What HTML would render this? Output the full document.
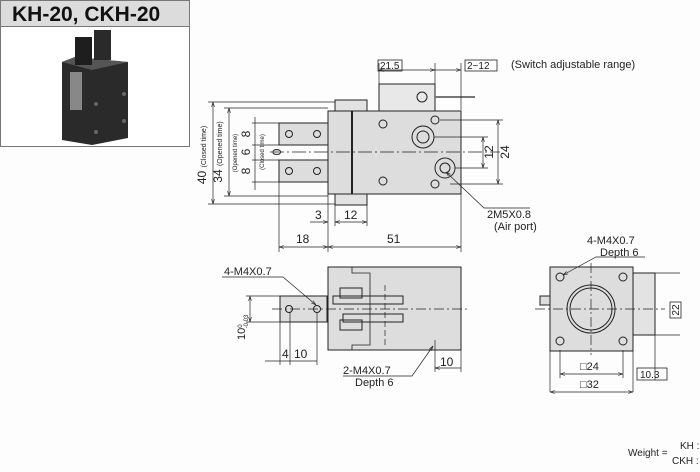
<!DOCTYPE html>
<html><head><meta charset="utf-8"><style>
html,body{margin:0;padding:0;background:#fff;}
svg{display:block;font-family:"Liberation Sans",sans-serif;}
</style></head><body>
<svg width="700" height="472" viewBox="0 0 700 472" xmlns="http://www.w3.org/2000/svg">
<defs>
<marker id="a" viewBox="0 0 10 10" refX="10" refY="5" markerWidth="7" markerHeight="7" orient="auto-start-reverse"><path d="M0,2 L10,5 L0,8" fill="none" stroke="#222" stroke-width="1.2"/></marker>
</defs>
<rect width="700" height="472" fill="#fdfdfd"/>
<rect x="0.5" y="0.5" width="189" height="146" fill="#fff" stroke="#777"/>
<rect x="0.5" y="0.5" width="189" height="26" fill="#dcdcdc" stroke="#777"/>
<text x="12" y="21" font-size="21" font-weight="bold" fill="#111">KH-20, CKH-20</text>
<polygon points="62,62 75,57 128,62 128,138 92,145 62,140" fill="#2a2a2a"/>
<polygon points="62,62 75,57 128,62 92,70" fill="#555"/>
<rect x="75" y="37" width="17" height="28" fill="#1e1e1e"/>
<rect x="94" y="30" width="17" height="30" fill="#2a2a2a"/>
<rect x="70" y="72" width="12" height="38" fill="#888"/>
<circle cx="96" cy="104" r="2" fill="#666"/><circle cx="96" cy="132" r="2" fill="#666"/>
<circle cx="124" cy="94" r="2" fill="#666"/><circle cx="124" cy="121" r="2" fill="#666"/>
<g stroke="#222" fill="none" stroke-width="1">
<rect x="335" y="100" width="32" height="11" fill="#e2e2e2"/>
<rect x="335" y="194" width="32" height="11" fill="#e2e2e2"/>
<rect x="379" y="84" width="56" height="27" fill="#e8e8e8"/>
<line x1="435" y1="97" x2="475" y2="97" stroke-width="2" stroke="#777"/>
<rect x="328" y="111" width="133" height="83" fill="#ddd"/>
<line x1="352" y1="111" x2="352" y2="194" stroke-width="2"/>
<rect x="279" y="123" width="49" height="22" fill="#ddd"/>
<rect x="279" y="160" width="49" height="22" fill="#ddd"/>
<circle cx="289" cy="134" r="3.5"/><circle cx="317" cy="134" r="3.5"/>
<circle cx="289" cy="171" r="3.5"/><circle cx="317" cy="171" r="3.5"/>
<circle cx="383" cy="124" r="4"/><circle cx="383" cy="181" r="4"/>
<circle cx="435" cy="120" r="4"/><circle cx="435" cy="184" r="4"/>
<circle cx="423" cy="137" r="11"/><circle cx="423" cy="137" r="6"/>
<circle cx="445" cy="168" r="10"/><circle cx="445" cy="168" r="5"/>
<circle cx="422" cy="97" r="5"/>
<line x1="270" y1="152" x2="500" y2="152" stroke-dasharray="14,3,2,3" stroke-width=".7"/>
<g stroke-width=".7">
<line x1="213" y1="102" x2="213" y2="204" marker-start="url(#a)" marker-end="url(#a)"/><line x1="208" y1="102" x2="335" y2="102"/><line x1="208" y1="204" x2="335" y2="204"/>
<line x1="229" y1="108" x2="229" y2="196" marker-start="url(#a)" marker-end="url(#a)"/><line x1="224" y1="108" x2="328" y2="108"/><line x1="224" y1="196" x2="328" y2="196"/>
<line x1="255" y1="117" x2="255" y2="190"/><line x1="252" y1="123" x2="279" y2="123"/><line x1="252" y1="182" x2="279" y2="182"/><line x1="252" y1="145" x2="279" y2="145"/><line x1="252" y1="160" x2="279" y2="160"/>
<line x1="498" y1="120" x2="498" y2="184" marker-start="url(#a)" marker-end="url(#a)"/><line x1="440" y1="120" x2="503" y2="120"/><line x1="450" y1="184" x2="503" y2="184"/>
<line x1="483" y1="137" x2="483" y2="168" marker-start="url(#a)" marker-end="url(#a)"/><line x1="434" y1="137" x2="488" y2="137"/><line x1="455" y1="168" x2="488" y2="168"/>
<line x1="379" y1="70" x2="435" y2="70" marker-start="url(#a)" marker-end="url(#a)"/><line x1="379" y1="63" x2="379" y2="84"/><line x1="435" y1="63" x2="435" y2="84"/>
<line x1="435" y1="70" x2="461" y2="70" marker-end="url(#a)"/><line x1="461" y1="63" x2="461" y2="110"/>
<line x1="310" y1="222" x2="328" y2="222" marker-end="url(#a)"/><line x1="335" y1="222" x2="367" y2="222" marker-start="url(#a)" marker-end="url(#a)"/><line x1="328" y1="194" x2="328" y2="252"/><line x1="335" y1="205" x2="335" y2="226"/><line x1="367" y1="205" x2="367" y2="226"/>
<line x1="279" y1="182" x2="279" y2="252"/><line x1="461" y1="194" x2="461" y2="252"/>
<line x1="279" y1="247" x2="328" y2="247" marker-start="url(#a)" marker-end="url(#a)"/><line x1="328" y1="247" x2="461" y2="247" marker-start="url(#a)" marker-end="url(#a)"/>
<polyline points="530,208 484,208 446,172" marker-end="url(#a)"/>
</g>
<rect x="328" y="267" width="133" height="83" fill="#ddd"/>
<polyline points="352,267 352,273 370,273 370,345 352,345 352,350" stroke-width=".8"/>
<rect x="340" y="288" width="22" height="10"/><rect x="340" y="320" width="22" height="10"/>
<rect x="333" y="296" width="70" height="8"/><rect x="343" y="314" width="60" height="8"/>
<rect x="280" y="296" width="47" height="26" fill="#ddd"/>
<circle cx="289" cy="309" r="3.5"/><circle cx="317" cy="309" r="3.5"/>
<line x1="272" y1="309" x2="470" y2="309" stroke-dasharray="10,3,2,3" stroke-width=".7"/>
<line x1="385" y1="285" x2="385" y2="345" stroke-dasharray="6,3" stroke-width=".7"/>
<g stroke-width=".7">
<line x1="250" y1="296" x2="250" y2="322" marker-start="url(#a)" marker-end="url(#a)"/><line x1="246" y1="296" x2="280" y2="296"/><line x1="246" y1="322" x2="280" y2="322"/>
<line x1="280" y1="322" x2="280" y2="365"/><line x1="290" y1="312" x2="290" y2="365"/><line x1="317" y1="312" x2="317" y2="365"/>
<line x1="265" y1="361" x2="317" y2="361"/>
<line x1="435" y1="340" x2="435" y2="372"/><line x1="461" y1="350" x2="461" y2="372"/><line x1="435" y1="368" x2="461" y2="368" marker-start="url(#a)"/>
<polyline points="222,277 283,277 316,305" marker-end="url(#a)"/>
<polyline points="343,376 412,376 433,346" marker-end="url(#a)"/>
</g>
<rect x="540" y="296" width="10" height="9" fill="#ddd"/>
<rect x="633" y="273" width="22" height="62" fill="#e3e3e3"/>
<rect x="550" y="267" width="83" height="84" fill="#ddd"/>
<circle cx="591" cy="309" r="24"/><circle cx="591" cy="309" r="21"/>
<circle cx="560" cy="277" r="4"/><circle cx="623" cy="277" r="4"/><circle cx="560" cy="341" r="4"/><circle cx="623" cy="341" r="4"/>
<line x1="535" y1="309" x2="665" y2="309" stroke-dasharray="10,3,2,3" stroke-width=".7"/>
<line x1="591" y1="263" x2="591" y2="355" stroke-dasharray="10,3,2,3" stroke-width=".7"/>
<g stroke-width=".7">
<line x1="560" y1="350" x2="560" y2="378"/><line x1="623" y1="350" x2="623" y2="378"/><line x1="560" y1="374" x2="623" y2="374" marker-start="url(#a)" marker-end="url(#a)"/>
<line x1="550" y1="351" x2="550" y2="392"/><line x1="633" y1="351" x2="633" y2="392"/><line x1="550" y1="392" x2="633" y2="392" marker-start="url(#a)" marker-end="url(#a)"/>
<line x1="655" y1="335" x2="655" y2="380"/><line x1="640" y1="273" x2="680" y2="273"/><line x1="640" y1="335" x2="680" y2="335"/>
<polyline points="645,257 596,257 563,275" marker-end="url(#a)"/>
</g>
</g>
<g fill="#222" font-size="11">
<rect x="378" y="60" width="24" height="11" fill="none" stroke="#222" stroke-width=".8"/>
<text x="380" y="69" font-size="10">21.5</text>
<rect x="465" y="60" width="32" height="11" fill="none" stroke="#222" stroke-width=".8"/>
<text x="467" y="69" font-size="10">2~12</text>
<text x="511" y="68">(Switch adjustable range)</text>
<text x="206" y="155" font-size="12" transform="rotate(-90 206 155)" text-anchor="middle">40 <tspan font-size="7">(Closed time)</tspan></text>
<text x="222" y="152" font-size="12" transform="rotate(-90 222 152)" text-anchor="middle">34 <tspan font-size="7">(Opened time)</tspan></text>
<text x="250" y="134" font-size="12" transform="rotate(-90 250 134)" text-anchor="middle">8</text>
<text x="250" y="152" font-size="12" transform="rotate(-90 250 152)" text-anchor="middle">6</text>
<text x="250" y="171" font-size="12" transform="rotate(-90 250 171)" text-anchor="middle">8</text>
<text x="237" y="153" font-size="6" transform="rotate(-90 237 153)" text-anchor="middle">(Opened time)</text>
<text x="281" y="152" font-size="12" transform="rotate(-90 281 152)" text-anchor="middle">0</text>
<text x="264" y="152" font-size="6" transform="rotate(-90 264 152)" text-anchor="middle">(Closed time)</text>
<text x="493" y="152" font-size="12" transform="rotate(-90 493 152)" text-anchor="middle">12</text>
<text x="509" y="152" font-size="12" transform="rotate(-90 509 152)" text-anchor="middle">24</text>
<text x="315" y="219" font-size="12">3</text>
<text x="344" y="219" font-size="12">12</text>
<text x="296" y="243" font-size="12">18</text>
<text x="387" y="243" font-size="12">51</text>
<text x="487" y="218">2M5X0.8</text>
<text x="494" y="230">(Air port)</text>
<text x="224" y="275">4-M4X0.7</text>
<text x="245" y="340" font-size="11" transform="rotate(-90 245 340)">10<tspan font-size="6" dy="-3">0</tspan><tspan font-size="6" dx="-4" dy="6">-0.03</tspan></text>
<text x="282" y="358" font-size="12">4</text>
<text x="294" y="358" font-size="12">10</text>
<text x="343" y="374">2-M4X0.7</text>
<text x="355" y="386">Depth 6</text>
<text x="440" y="366" font-size="12">10</text>
<text x="587" y="244">4-M4X0.7</text>
<text x="600" y="256">Depth 6</text>
<rect x="670" y="302" width="11" height="16" fill="none" stroke="#222" stroke-width=".8"/>
<text x="679" y="310" font-size="10" transform="rotate(-90 679 310)" text-anchor="middle">22</text>
<text x="580" y="370">□24</text>
<text x="580" y="388">□32</text>
<rect x="637" y="368" width="30" height="12" fill="none" stroke="#222" stroke-width=".8"/>
<text x="640" y="378" font-size="10">10.3</text>
<text x="628" y="456" font-size="10">Weight =</text>
<text x="680" y="449" font-size="10">KH :</text>
<text x="672" y="464" font-size="10">CKH :</text>
</g>
</svg>
</body></html>
